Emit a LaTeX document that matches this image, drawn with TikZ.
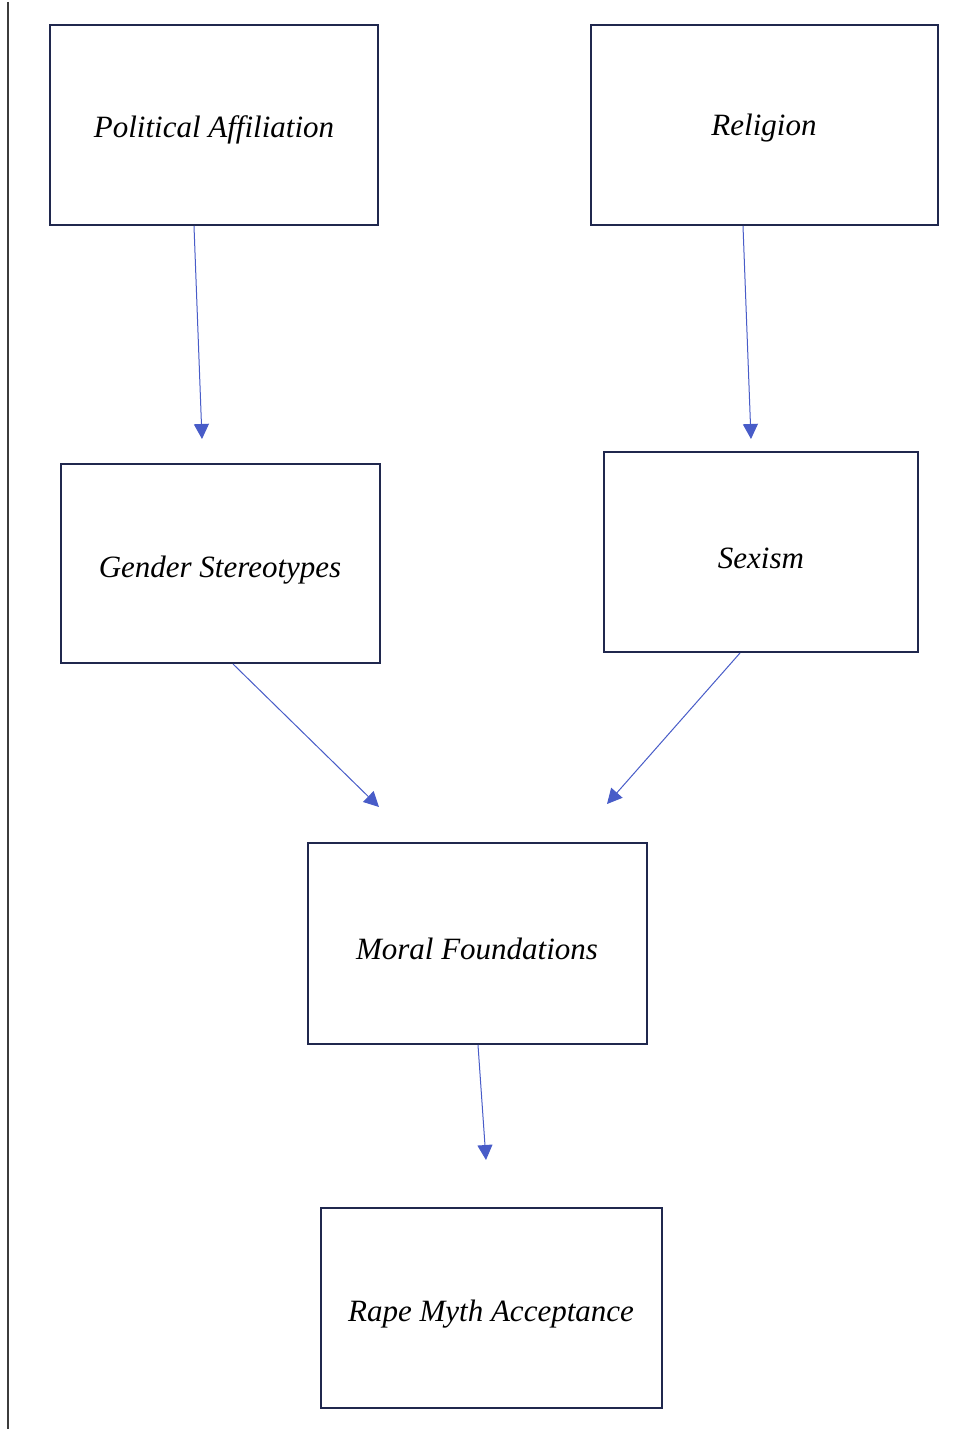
\documentclass[tikz,border=0pt]{standalone}
\usepackage{fontspec}
\setmainfont{Liberation Serif}
\usetikzlibrary{arrows.meta}
\definecolor{boxline}{RGB}{32,40,78}
\definecolor{arrowblue}{RGB}{72,92,200}
\definecolor{edgegray}{RGB}{60,60,60}
\begin{document}
\begin{tikzpicture}[x=0.5pt,y=-0.5pt,
  factor/.style={draw=boxline,line width=1pt,fill=white,inner sep=0pt},
  label/.style={font=\fontsize{15.5}{18}\selectfont\itshape},
  link/.style={draw=arrowblue,line width=0.5pt,-{Triangle[length=7.5pt,width=7.5pt]}}]
\useasboundingbox (0,0) rectangle (962,1429);
\fill[white] (0,0) rectangle (962,1429);
% left margin rule
\draw[edgegray,line width=1.1pt] (8,2) -- (8,1429);
% boxes
\draw[factor] (50,25) rectangle (378,225);
\draw[factor] (591,25) rectangle (938,225);
\draw[factor] (61,464) rectangle (380,663);
\draw[factor] (604,452) rectangle (918,652);
\draw[factor] (308,843) rectangle (647,1044);
\draw[factor] (321,1208) rectangle (662,1408);
% labels
\node[label] (pol) at (214,130) {Political Affiliation};
\node[label] (rel) at (764,128) {Religion};
\node[label] (gen) at (220,570) {Gender Stereotypes};
\node[label] (sex) at (761,558) {Sexism};
\node[label] (mor) at (477,949) {Moral Foundations};
\node[label] (rma) at (491,1314) {Rape Myth Acceptance};
% connector ends
\coordinate (polout) at (194,226);
\coordinate (polend) at (202,439);
\coordinate (relout) at (743,226);
\coordinate (relend) at (751,439);
\coordinate (genout) at (233,664);
\coordinate (genend) at (379,807);
\coordinate (sexout) at (740,653);
\coordinate (sexend) at (607,804);
\coordinate (morout) at (478,1045);
\coordinate (morend) at (486,1160);
% connectors
\draw[link] (polout) -- (polend);
\draw[link] (relout) -- (relend);
\draw[link] (genout) -- (genend);
\draw[link] (sexout) -- (sexend);
\draw[link] (morout) -- (morend);
\end{tikzpicture}
\end{document}
